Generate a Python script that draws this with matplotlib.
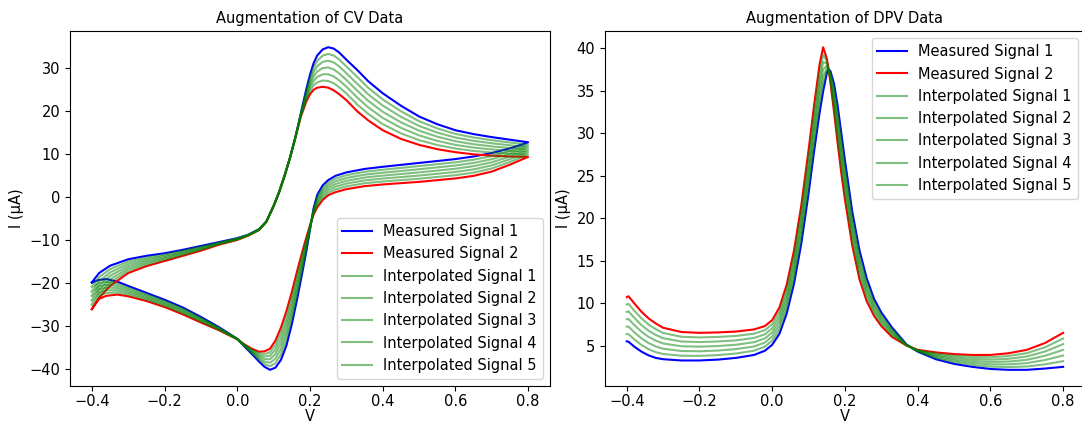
import numpy as np
import matplotlib
matplotlib.use('Agg')
import matplotlib.pyplot as plt

# CV data, forward (upper) branch
v_fwd = [-0.4, -0.38, -0.35, -0.3, -0.25, -0.2, -0.15, -0.1, -0.05, 0.0, 0.03, 0.06,
         0.08, 0.1, 0.115, 0.13, 0.145, 0.16, 0.175, 0.19, 0.2, 0.21, 0.22, 0.235,
         0.25, 0.265, 0.28, 0.3, 0.33, 0.36, 0.4, 0.45, 0.5, 0.55, 0.6, 0.65, 0.7,
         0.75, 0.8]
cv1_fwd = [-19.8, -17.6, -15.9, -14.4, -13.6, -13.0, -12.2, -11.3, -10.4, -9.5, -8.7,
           -7.4, -5.6, -2.0, 1.2, 5.0, 9.2, 14.0, 19.6, 25.2, 28.5, 31.2, 33.0, 34.4,
           34.9, 34.6, 33.7, 32.0, 29.6, 27.0, 24.2, 21.3, 18.8, 17.0, 15.6, 14.7,
           14.0, 13.4, 12.8]
cv2_fwd = [-26.0, -23.3, -20.6, -17.6, -16.0, -14.8, -13.6, -12.4, -11.0, -9.9, -8.9,
           -7.6, -5.7, -2.0, 1.2, 5.0, 9.2, 14.0, 18.8, 22.3, 24.0, 25.0, 25.5, 25.7,
           25.5, 24.9, 24.0, 22.6, 20.0, 17.9, 15.6, 13.6, 12.2, 11.2, 10.5, 10.0,
           9.7, 9.5, 9.4]

# CV data, reverse (lower) branch
v_rev = [0.8, 0.78, 0.75, 0.7, 0.65, 0.6, 0.5, 0.4, 0.35, 0.3, 0.27, 0.25, 0.235,
         0.22, 0.21, 0.2, 0.19, 0.18, 0.165, 0.15, 0.135, 0.12, 0.105, 0.09, 0.075,
         0.06, 0.04, 0.02, 0.0, -0.05, -0.1, -0.15, -0.2, -0.25, -0.3, -0.33, -0.36,
         -0.38, -0.4]
cv1_rev = [12.8, 12.2, 11.4, 10.3, 9.5, 8.9, 8.0, 7.1, 6.6, 5.8, 5.0, 4.0, 2.8, 0.6,
           -2.5, -7.5, -12.5, -17.0, -23.5, -29.5, -34.5, -37.8, -39.6, -40.1, -39.4,
           -38.2, -36.4, -34.7, -32.9, -30.2, -27.8, -25.6, -23.8, -22.2, -20.6,
           -19.6, -19.0, -19.2, -19.8]
cv2_rev = [9.4, 8.7, 7.6, 6.0, 5.0, 4.4, 3.6, 3.0, 2.6, 1.9, 1.2, 0.5, -0.6, -2.3,
           -4.0, -6.5, -9.3, -12.3, -17.0, -22.0, -26.5, -30.3, -33.3, -35.2, -35.8,
           -35.9, -35.2, -34.2, -33.0, -30.9, -29.1, -27.2, -25.5, -24.1, -23.0,
           -22.6, -22.9, -23.6, -26.0]

# DPV data
v_dpv = [-0.4, -0.395, -0.38, -0.36, -0.34, -0.32, -0.3, -0.25, -0.2, -0.15, -0.1,
         -0.05, -0.02, 0.0, 0.02, 0.04, 0.06, 0.08, 0.1, 0.115, 0.13, 0.14, 0.15,
         0.155, 0.16, 0.17, 0.18, 0.19, 0.2, 0.22, 0.24, 0.26, 0.28, 0.3, 0.33, 0.37,
         0.4, 0.45, 0.5, 0.55, 0.6, 0.65, 0.7, 0.75, 0.8]
dpv1 = [5.5, 5.45, 4.9, 4.3, 3.85, 3.55, 3.4, 3.25, 3.25, 3.35, 3.55, 3.9, 4.4, 5.1,
        6.4, 8.8, 12.3, 17.0, 22.9, 27.8, 32.3, 34.9, 37.0, 37.5, 37.3, 35.8, 33.2,
        30.0, 26.8, 20.8, 16.2, 12.9, 10.5, 8.9, 7.1, 5.1, 4.3, 3.4, 2.85, 2.5,
        2.25, 2.15, 2.15, 2.3, 2.5]
dpv2 = [10.7, 10.8, 10.0, 9.0, 8.2, 7.6, 7.1, 6.6, 6.5, 6.55, 6.65, 6.9, 7.3, 8.0,
        9.5, 12.2, 16.2, 21.5, 28.0, 33.2, 38.0, 40.1, 38.8, 37.5, 36.0, 32.5, 28.8,
        25.3, 22.2, 16.8, 12.8, 10.2, 8.5, 7.3, 6.0, 5.0, 4.5, 4.2, 4.0, 3.9, 3.9,
        4.1, 4.5, 5.3, 6.5]

n_interp = 5
fs = 10.5

v_cv = np.array(v_fwd + v_rev)
cv1 = np.array(cv1_fwd + cv1_rev)
cv2 = np.array(cv2_fwd + cv2_rev)
v_dpv = np.array(v_dpv)
dpv1 = np.array(dpv1)
dpv2 = np.array(dpv2)

fig = plt.figure(figsize=(10.82, 4.26), dpi=100)
# right panel runs slightly past the figure edge, as in the reference
ax1 = fig.add_axes([0.0647, 0.094, 0.4436, 0.833])
ax2 = fig.add_axes([0.5591, 0.094, 0.4436, 0.833])

for ax, x, s1, s2, title, loc in [
        (ax1, v_cv, cv1, cv2, 'Augmentation of CV Data', 'lower right'),
        (ax2, v_dpv, dpv1, dpv2, 'Augmentation of DPV Data', 'upper right')]:
    ax.plot(x, s1, color='blue', lw=1.5, label='Measured Signal 1')
    ax.plot(x, s2, color='red', lw=1.5, label='Measured Signal 2')
    # interpolated signals: even blends between the two measured signals
    for k in range(1, n_interp + 1):
        w = k / (n_interp + 1)
        ax.plot(x, (1 - w) * s1 + w * s2, color='green', alpha=0.5, lw=1.5,
                label=f'Interpolated Signal {k}')
    ax.set_title(title, fontsize=fs)
    ax.set_xlabel('V', fontsize=fs, labelpad=0)
    ax.set_ylabel('I (μA)', fontsize=fs)
    ax.tick_params(labelsize=fs)
    ax.tick_params(axis='x', pad=2.5)
    ax.legend(loc=loc, fontsize=fs)

fig.savefig('out.png', dpi=100)
